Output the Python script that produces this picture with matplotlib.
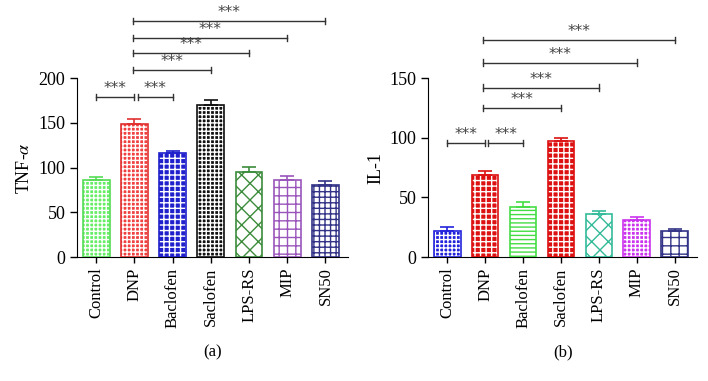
import matplotlib
matplotlib.use('Agg')
import matplotlib.pyplot as plt

plt.rcParams['font.family'] = ['Liberation Serif', 'DejaVu Serif']
plt.rcParams['mathtext.fontset'] = 'stix'
plt.rcParams['hatch.linewidth'] = 1.0

groups = ['Control', 'DNP', 'Baclofen', 'Saclofen', 'LPS-RS', 'MIP', 'SN50']

tnf_mean = [86, 149, 116, 170, 95, 86, 81]
tnf_err = [4, 5, 3, 6, 6, 5, 4]
il1_mean = [22, 69, 42, 97, 36, 31, 22]
il1_err = [3, 3, 4, 3, 3, 3, 2]

# (start group, end group, bracket height)
tnf_sig = [(0, 1, 179), (1, 3, 209), (1, 4, 228), (1, 5, 245), (1, 6, 264)]
tnf_sig2 = [(1, 2, 179)]
il1_sig = [(0, 1, 95.5), (1, 3, 125), (1, 4, 142), (1, 5, 163), (1, 6, 182)]
il1_sig2 = [(1, 2, 95.5)]

# (face colour, line colour, hatch colour, hatch)
tnf_style = [('#66ee66', '#55dd55', 'white', '++++'),
             ('#f04040', '#e03030', 'white', '++++'),
             ('#2020cc', '#2020cc', 'white', '+++'),
             ('#111111', '#111111', 'white', '++++'),
             ('white', '#3c8c3c', '#3c8c3c', 'xx'),
             ('white', '#9955bb', '#9955bb', '++'),
             ('white', '#333388', '#333388', '+++')]
il1_style = [('#2222dd', '#2222dd', 'white', '++++'),
             ('#dd1111', '#dd1111', 'white', '+++'),
             ('white', '#44dd44', '#44dd44', '----'),
             ('#dd1111', '#dd1111', 'white', '+++'),
             ('white', '#33bb99', '#33bb99', 'xx'),
             ('#cc33ee', '#cc33ee', 'white', '++++'),
             ('white', '#333388', '#333388', '++')]


def bracket(ax, x1, x2, y, h):
    c = '#333333'
    ax.plot([x1, x2], [y, y], color=c, lw=1, clip_on=False)
    ax.plot([x1, x1], [y - h, y + h], color=c, lw=1, clip_on=False)
    ax.plot([x2, x2], [y - h, y + h], color=c, lw=1, clip_on=False)
    ax.text((x1 + x2) / 2, y + h * 0.3, '***', ha='center', va='bottom',
            fontsize=11, color='#444444', family='DejaVu Sans', clip_on=False)


def panel(ax, means, errs, styles, sigs, sigs2, ymax, yticks, ylabel):
    x = range(len(groups))
    for i in x:
        face, line, hcol, hatch = styles[i]
        ax.bar(i, means[i], width=0.7, color=face, linewidth=0, zorder=2)
        ax.bar(i, means[i], width=0.7, facecolor='none', edgecolor=hcol,
               hatch=hatch, linewidth=0, zorder=3)
        ax.bar(i, means[i], width=0.7, facecolor='none', edgecolor=line,
               linewidth=1.2, zorder=4)
        ax.errorbar(i, means[i], yerr=[[0], [errs[i]]], color=line,
                    capsize=5, elinewidth=1.2, capthick=1.2, zorder=5)
    h = ymax * 0.018
    for a, b, y in sigs:
        bracket(ax, a - 0.05 if a == 1 else a, b, y, h)
    for a, b, y in sigs2:
        bracket(ax, a + 0.08, b, y, h)
    ax.set_xlim(-0.5, 6.6)
    ax.set_ylim(0, ymax)
    ax.set_yticks(yticks)
    ax.set_xticks(list(x))
    ax.set_xticklabels(groups, rotation=90, fontsize=12)
    ax.tick_params(axis='y', labelsize=13, length=5, width=1)
    ax.tick_params(axis='x', length=4, width=1)
    ax.set_ylabel(ylabel, fontsize=13)
    ax.spines['top'].set_visible(False)
    ax.spines['right'].set_visible(False)


fig = plt.figure(figsize=(7.08, 3.81), dpi=100)
ax1 = fig.add_axes([0.109, 0.325, 0.383, 0.47])
ax2 = fig.add_axes([0.605, 0.325, 0.38, 0.47])

panel(ax1, tnf_mean, tnf_err, tnf_style, tnf_sig, tnf_sig2, 200,
      [0, 50, 100, 150, 200], 'TNF-$\\alpha$')
panel(ax2, il1_mean, il1_err, il1_style, il1_sig, il1_sig2, 150,
      [0, 50, 100, 150], 'IL-1')

fig.text(0.30, 0.065, '(a)', ha='center', fontsize=12)
fig.text(0.795, 0.065, '(b)', ha='center', fontsize=12)

fig.savefig('out.png', dpi=100)
